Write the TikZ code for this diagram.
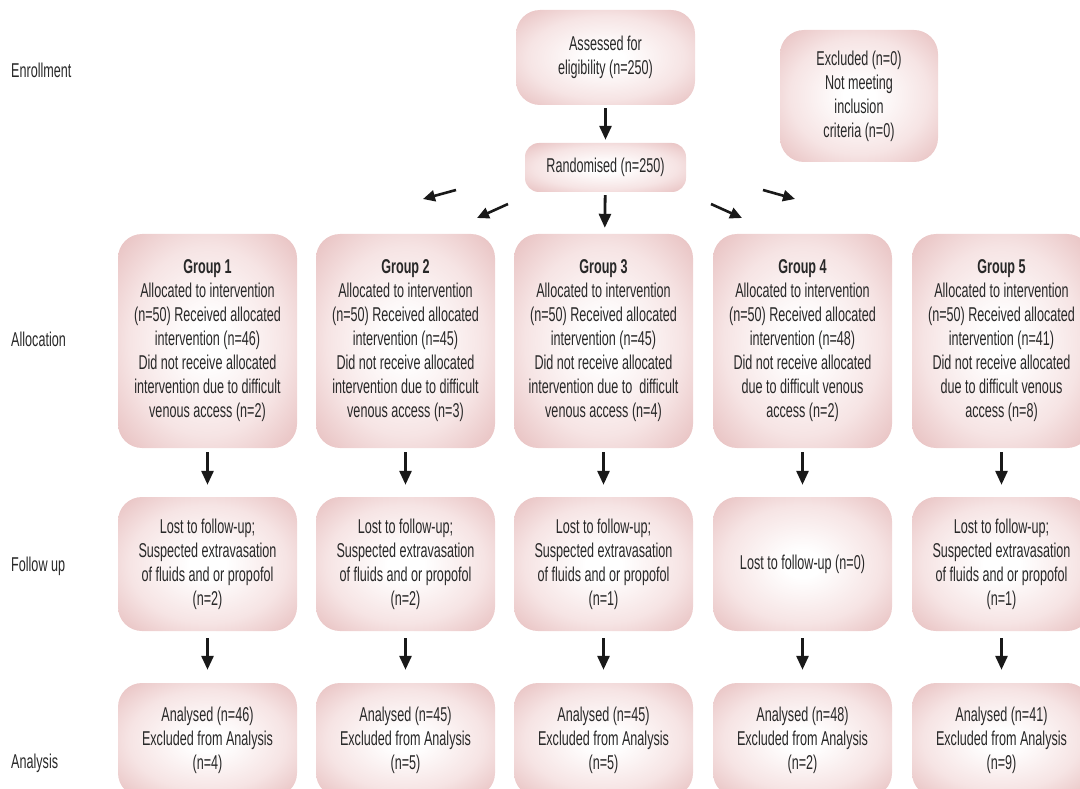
\documentclass[tikz,border=0pt]{standalone}
\usepackage{fontspec}
\setmainfont[FakeStretch=0.63]{Liberation Sans}
\usetikzlibrary{arrows.meta}
\definecolor{pinkA}{RGB}{246,228,228}
\definecolor{pinkL}{RGB}{228,184,184}
\definecolor{pinkE}{RGB}{212,152,152}
\definecolor{pinkC}{RGB}{200,134,134}
\definecolor{txt}{RGB}{40,40,40}
\definecolor{arrowc}{RGB}{25,25,25}
\pgfdeclareradialshading{boxshade}{\pgfpoint{0bp}{0bp}}{color(0bp)=(white); color(5bp)=(white); color(22bp)=(pinkA); color(38bp)=(pinkL); color(50bp)=(pinkE); color(70bp)=(pinkC); color(100bp)=(pinkC)}
\tikzset{
  box/.style={rectangle, rounded corners=24pt, shade, shading=boxshade, text=txt, align=center,
    font=\fontsize{20}{24}\selectfont, inner sep=0pt, minimum width=179pt},
  sidelabel/.style={anchor=west, text=txt, font=\fontsize{20}{24}\selectfont, inner sep=0pt},
  arr/.style={-{Triangle[length=14pt,width=12pt]}, line width=2.8pt, draw=arrowc},
  darr/.style={-{Triangle[length=12pt,width=11pt]}, line width=2.6pt, draw=arrowc}
}
\begin{document}
\begin{tikzpicture}[x=1pt,y=-1pt]
\useasboundingbox (0,0) rectangle (1080,789);
% side labels
\node[sidelabel] (lenr) at (11,70) {Enrollment};
\node[sidelabel] (lall) at (11,339) {Allocation};
\node[sidelabel] (lfol) at (11,566) {Follow up};
\node[sidelabel] (lana) at (11,763) {Analysis};
% top
\node[box, minimum height=95pt] (assess) at (605.5,57.5) {Assessed for\\eligibility (n=250)};
\node[box, minimum width=161pt, minimum height=49pt, rounded corners=14pt] (rand) at (605.5,167.5) {Randomised (n=250)};
\node[box, minimum width=158pt, minimum height=132pt] (excl) at (859,96) {Excluded (n=0)\\Not meeting\\inclusion\\criteria (n=0)};
% groups
\node[box, minimum height=214pt] (g1) at (207.5,341) {\textbf{Group 1}\\Allocated to intervention\\(n=50) Received allocated\\intervention (n=46)\\Did not receive allocated\\intervention due to difficult\\venous access (n=2)};
\node[box, minimum height=214pt] (g2) at (405.5,341) {\textbf{Group 2}\\Allocated to intervention\\(n=50) Received allocated\\intervention (n=45)\\Did not receive allocated\\intervention due to difficult\\venous access (n=3)};
\node[box, minimum height=214pt] (g3) at (603.5,341) {\textbf{Group 3}\\Allocated to intervention\\(n=50) Received allocated\\intervention (n=45)\\Did not receive allocated\\intervention due to\ \ difficult\\venous access (n=4)};
\node[box, minimum height=214pt] (g4) at (802.5,341) {\textbf{Group 4}\\Allocated to intervention\\(n=50) Received allocated\\intervention (n=48)\\Did not receive allocated\\due to difficult venous\\access (n=2)};
\node[box, minimum height=214pt] (g5) at (1001.5,341) {\textbf{Group 5}\\Allocated to intervention\\(n=50) Received allocated\\intervention (n=41)\\Did not receive allocated\\due to difficult venous\\access (n=8)};
% follow up
\node[box, minimum height=134pt] (f1) at (207.5,564) {Lost to follow-up;\\Suspected extravasation\\of fluids and or propofol\\(n=2)};
\node[box, minimum height=134pt] (f2) at (405.5,564) {Lost to follow-up;\\Suspected extravasation\\of fluids and or propofol\\(n=2)};
\node[box, minimum height=134pt] (f3) at (603.5,564) {Lost to follow-up;\\Suspected extravasation\\of fluids and or propofol\\(n=1)};
\node[box, minimum height=134pt] (f4) at (802.5,564) {Lost to follow-up (n=0)};
\node[box, minimum height=134pt] (f5) at (1001.5,564) {Lost to follow-up;\\Suspected extravasation\\of fluids and or propofol\\(n=1)};
% analysis
\node[box, minimum height=114pt] (a1) at (207.5,740) {Analysed (n=46)\\Excluded from Analysis\\(n=4)};
\node[box, minimum height=114pt] (a2) at (405.5,740) {Analysed (n=45)\\Excluded from Analysis\\(n=5)};
\node[box, minimum height=114pt] (a3) at (603.5,740) {Analysed (n=45)\\Excluded from Analysis\\(n=5)};
\node[box, minimum height=114pt] (a4) at (802.5,740) {Analysed (n=48)\\Excluded from Analysis\\(n=2)};
\node[box, minimum height=114pt] (a5) at (1001.5,740) {Analysed (n=41)\\Excluded from Analysis\\(n=9)};
% arrows
\draw[arr, shorten <=3pt, shorten >=3pt] (assess) -- (rand);
\draw[arr, shorten <=3pt, shorten >=6pt] (rand) -- (g3);
\foreach \i in {1,...,5}{
  \draw[arr, shorten <=4pt, shorten >=12pt] (g\i) -- (f\i);
  \draw[arr, shorten <=7pt, shorten >=13pt] (f\i) -- (a\i);
}
% free diagonal arrows
\coordinate (d1s) at (456,190); \coordinate (d1e) at (423,199);
\coordinate (d2s) at (508,204); \coordinate (d2e) at (477,218);
\coordinate (d3s) at (711,204); \coordinate (d3e) at (742,218);
\coordinate (d4s) at (763,190); \coordinate (d4e) at (795,199);
\draw[darr] (d1s) -- (d1e);
\draw[darr] (d2s) -- (d2e);
\draw[darr] (d3s) -- (d3e);
\draw[darr] (d4s) -- (d4e);
\end{tikzpicture}
\end{document}
